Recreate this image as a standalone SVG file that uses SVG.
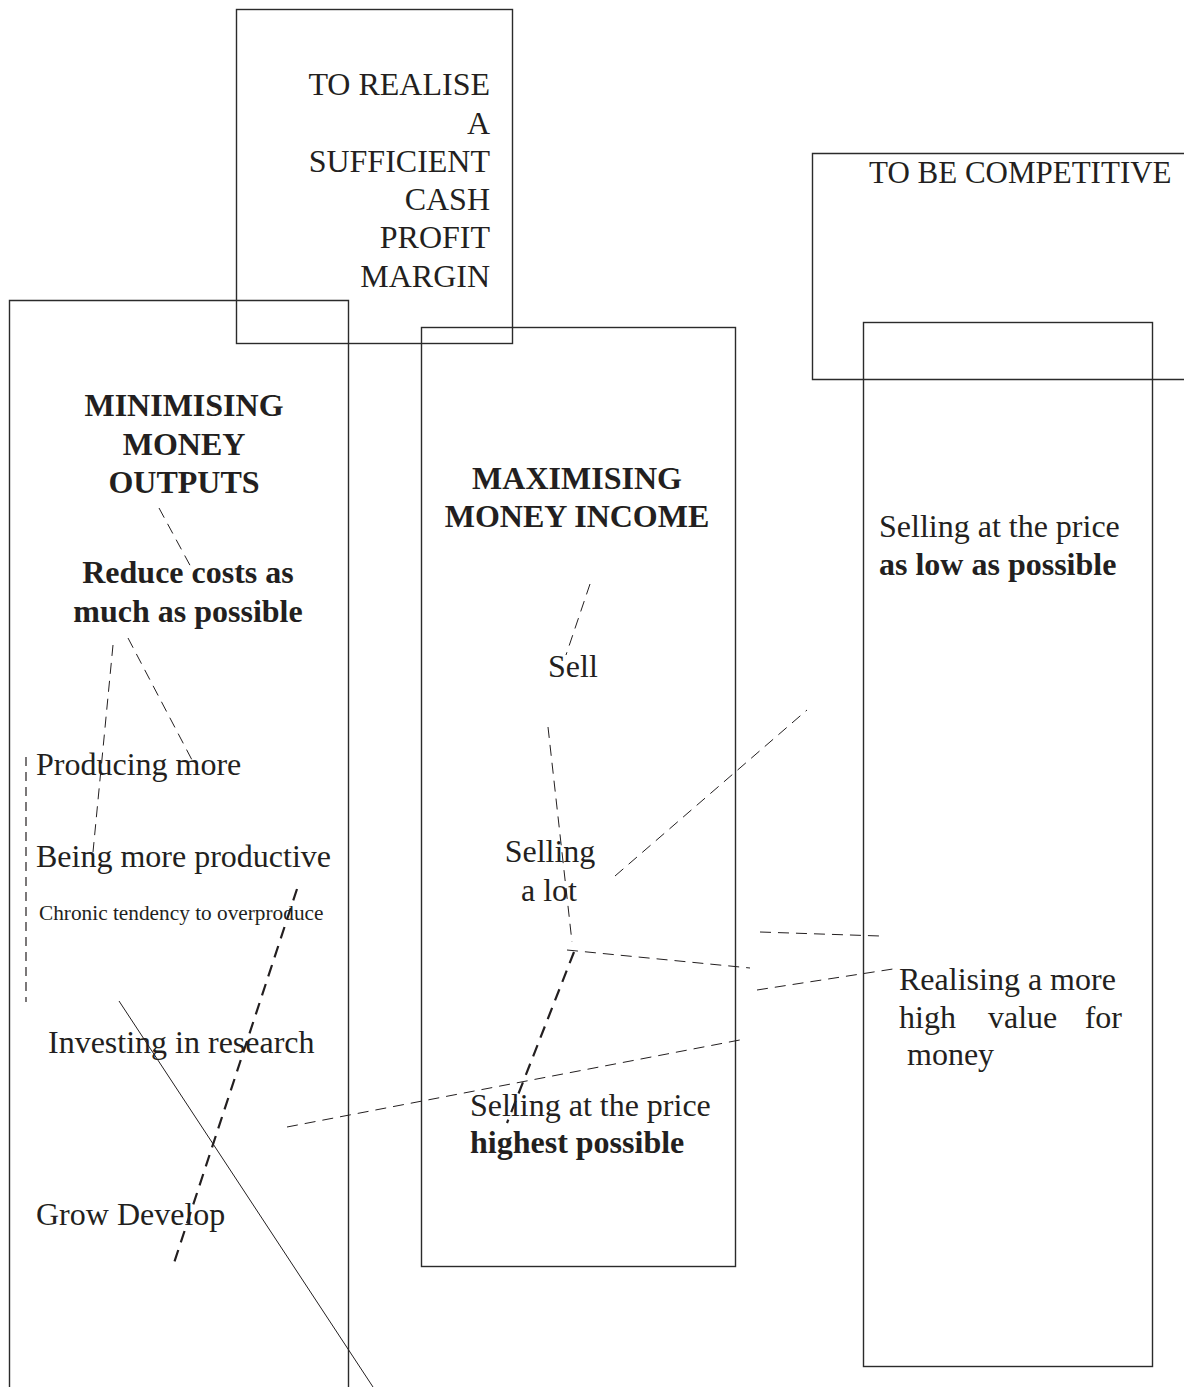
<svg xmlns="http://www.w3.org/2000/svg" width="1184" height="1387" viewBox="0 0 1184 1387">
  <style>
    .box { fill: none; stroke: #2b2b2b; stroke-width: 1.4; }
    .t { font-family: "Liberation Serif", "Times New Roman", serif; fill: #231f20; font-size: 32px; }
    .h { font-size: 31px; }
    .b { font-weight: bold; }
    .mid { text-anchor: middle; }
    .end { text-anchor: end; }
    .dash { fill: none; stroke: #231f20; stroke-width: 1; stroke-dasharray: 11 7; }
    .dash-v { fill: none; stroke: #231f20; stroke-width: 1.2; stroke-dasharray: 9 6; }
    .dash-bold { fill: none; stroke: #231f20; stroke-width: 2.2; stroke-dasharray: 12 8; }
    .solid { fill: none; stroke: #231f20; stroke-width: 1; }
  </style>

  <rect width="1184" height="1387" fill="#ffffff"/>

  <!-- goal: cash profit margin -->
  <g id="goal-profit">
    <rect class="box" x="236.5" y="9.5" width="276" height="334"/>
    <text class="t end" x="490" y="95">TO REALISE</text>
    <text class="t end" x="490" y="134">A</text>
    <text class="t end" x="490" y="172">SUFFICIENT</text>
    <text class="t end" x="490" y="210">CASH</text>
    <text class="t end" x="490" y="248">PROFIT</text>
    <text class="t end" x="490" y="287">MARGIN</text>
  </g>

  <!-- goal: competitiveness -->
  <g id="goal-competitive">
    <path class="box" d="M1190 153.5 H812.5 V379.5 H1190"/>
    <text class="t h" x="869" y="183">TO BE COMPETITIVE</text>
  </g>

  <!-- column: minimising outputs -->
  <g id="minimising">
    <path class="box" d="M9.5 1395 V300.5 H348.5 V1395"/>
    <text class="t b mid" x="184" y="416">MINIMISING</text>
    <text class="t b mid" x="184" y="455">MONEY</text>
    <text class="t b mid" x="184" y="493">OUTPUTS</text>
  </g>
  <g id="reduce-costs">
    <text class="t b mid" x="188" y="583">Reduce costs as</text>
    <text class="t b mid" x="188" y="622">much as possible</text>
  </g>
  <g id="producing-more"><text class="t" x="36" y="775">Producing more</text></g>
  <g id="being-productive"><text class="t" x="36" y="867">Being more productive</text></g>
  <g id="overproduce"><text class="t" style="font-size:21.3px" x="39" y="920">Chronic tendency to overproduce</text></g>
  <g id="investing"><text class="t" x="48" y="1053">Investing in research</text></g>
  <g id="grow"><text class="t" x="36" y="1225">Grow Develop</text></g>

  <!-- column: maximising income -->
  <g id="maximising">
    <rect class="box" x="421.5" y="327.5" width="314" height="939"/>
    <text class="t b mid" x="577" y="489">MAXIMISING</text>
    <text class="t b mid" x="577" y="527">MONEY INCOME</text>
  </g>
  <g id="sell"><text class="t" x="548" y="677">Sell</text></g>
  <g id="selling-lot">
    <text class="t mid" x="550" y="862">Selling</text>
    <text class="t mid" x="549" y="901">a lot</text>
  </g>
  <g id="selling-high">
    <text class="t" x="470" y="1116">Selling at the price</text>
    <text class="t b" x="470" y="1153">highest possible</text>
  </g>

  <!-- column: competitive price -->
  <g id="competitive-column">
    <rect class="box" x="863.5" y="322.5" width="289" height="1044"/>
  </g>
  <g id="selling-low">
    <text class="t" x="879" y="537">Selling at the price</text>
    <text class="t b" x="879" y="575">as low as possible</text>
  </g>
  <g id="value-for-money">
    <text class="t" x="899" y="990">Realising a more</text>
    <text class="t" x="899" y="1028">high</text>
    <text class="t" x="988" y="1028">value</text>
    <text class="t end" x="1122" y="1028">for</text>
    <text class="t" x="907" y="1065">money</text>
  </g>

  <!-- connectors -->
  <g id="connectors">
    <line class="dash" x1="159" y1="508" x2="192" y2="569"/>
    <line class="dash" x1="113" y1="645" x2="93" y2="852"/>
    <line class="dash" x1="128" y1="638" x2="192" y2="760"/>
    <line class="dash-v" x1="26" y1="757" x2="26" y2="1002"/>
    <line class="dash-bold" x1="297" y1="889" x2="174" y2="1263"/>
    <line class="solid" x1="119" y1="1001" x2="373" y2="1387"/>
    <line class="dash" x1="590" y1="584" x2="566" y2="655"/>
    <line class="dash" x1="548" y1="727" x2="572" y2="942"/>
    <line class="dash" x1="615" y1="876" x2="807" y2="710"/>
    <line class="dash" x1="567" y1="950" x2="750" y2="968"/>
    <line class="dash" x1="760" y1="932" x2="880" y2="936"/>
    <line class="dash" x1="757" y1="990" x2="893" y2="969"/>
    <line class="dash-bold" x1="574" y1="952" x2="507" y2="1123"/>
    <line class="dash" x1="287" y1="1127" x2="745" y2="1039"/>
  </g>
</svg>
